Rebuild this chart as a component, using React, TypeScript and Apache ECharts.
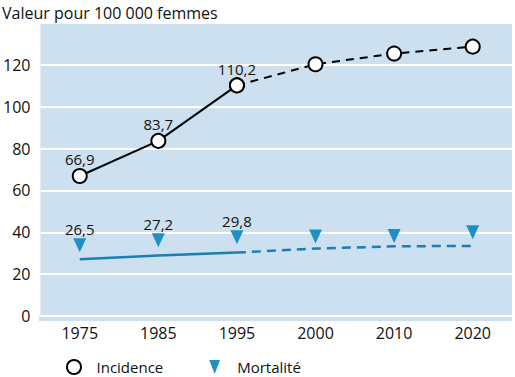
import React, { useEffect, useRef } from "react";
import * as echarts from "echarts";

const years = ["1975", "1985", "1995", "2000", "2010", "2020"];
const incidence = [66.9, 83.7, 110.2, 120.3, 125.4, 128.7];
const incidenceLabels = [66.9, 83.7, 110.2, null, null, null];
const mortalityLine = [27.1, 28.9, 30.3, 32.2, 33.3, 33.5];
const mortalityMarkers = [33.8, 36.2, 37.6, 38.0, 38.2, 40.0];
const mortalityLabels = [26.5, 27.2, 29.8, null, null, null];
const yTicks = [0, 20, 40, 60, 80, 100, 120];
const lastMeasured = 2;

const FONT = "Open Sans";
const BLUE = "#1a7fb3";
const MARK_BLUE = "#1f8fc6";
const BG = "#cde0ef";

const fmt = (v: number | null) => (v == null ? "" : String(v).replace(".", ","));

export default function App() {
  const ref = useRef<HTMLDivElement>(null);
  useEffect(() => {
    if (!ref.current) return;
    const chart = echarts.init(ref.current, undefined, { renderer: "svg" });
    const solid = (arr: number[]) => arr.map((v, i) => (i <= lastMeasured ? v : null));
    const dashed = (arr: number[]) => arr.map((v, i) => (i >= lastMeasured ? v : null));
    chart.setOption({
      animation: false,
      textStyle: { fontFamily: FONT },
      title: {
        text: "Valeur pour 100 000 femmes",
        left: -3,
        top: 0,
        textStyle: { fontFamily: FONT, fontSize: 16, fontWeight: "normal", color: "#111" },
      },
      grid: {
        left: 39,
        right: 3,
        top: 23,
        bottom: 61,
        show: true,
        backgroundColor: BG,
        borderWidth: 0,
      },
      graphic: [
        { type: "rect", shape: { x: 39, y: 316, width: 473, height: 5 }, style: { fill: BG }, z: -1 },
      ],
      legend: {
        left: 61,
        top: 354,
        itemWidth: 35,
        itemHeight: 14,
        itemGap: 46,
        textStyle: { fontFamily: FONT, fontSize: 15, color: "#111" },
        data: [
          {
            name: "Incidence",
            icon: "circle",
            itemStyle: { color: "#fff", borderColor: "#000", borderWidth: 2 },
          },
          {
            name: "Mortalité",
            icon: "path://M0,0L10,0L5,13Z",
            itemStyle: { color: MARK_BLUE, borderWidth: 0 },
          },
        ],
      },
      xAxis: {
        type: "category",
        data: years,
        boundaryGap: true,
        axisLine: { show: false },
        axisTick: { show: false },
        axisLabel: { fontFamily: FONT, fontSize: 16, color: "#111", margin: 9 },
      },
      yAxis: {
        type: "value",
        min: 0,
        max: 140,
        interval: 20,
        axisLine: { show: false },
        axisTick: { show: false },
        splitLine: { show: true, lineStyle: { color: "#fff", width: 2 } },
        axisLabel: {
          fontFamily: FONT,
          fontSize: 16,
          color: "#111",
          margin: 10,
          formatter: (v: number) => (yTicks.includes(v) ? String(v) : ""),
        },
      },
      series: [
        {
          name: "Mortalité",
          type: "line",
          data: solid(mortalityLine),
          showSymbol: false,
          symbol: "none",
          lineStyle: { color: BLUE, width: 2.5 },
          itemStyle: { color: BLUE },
          z: 2,
        },
        {
          name: "Mortalité",
          type: "line",
          data: dashed(mortalityLine),
          showSymbol: false,
          symbol: "none",
          lineStyle: { color: BLUE, width: 2.5, type: [9, 6] },
          itemStyle: { color: BLUE },
          z: 2,
        },
        {
          name: "Mortalité",
          type: "scatter",
          data: mortalityMarkers,
          symbol: "triangle",
          symbolRotate: 180,
          symbolSize: [13, 14],
          itemStyle: { color: MARK_BLUE, opacity: 1 },
          label: {
            show: true,
            position: "top",
            distance: 2,
            fontFamily: FONT,
            fontSize: 15,
            color: "#111",
            formatter: (p: any) => fmt(mortalityLabels[p.dataIndex]),
          },
          z: 3,
        },
        {
          name: "Incidence",
          type: "line",
          data: solid(incidence),
          symbol: "circle",
          symbolSize: 14,
          showAllSymbol: true,
          lineStyle: { color: "#000", width: 2 },
          itemStyle: { color: "#fff", borderColor: "#000", borderWidth: 2 },
          label: {
            show: true,
            position: "top",
            distance: 1,
            fontFamily: FONT,
            fontSize: 15,
            color: "#111",
            formatter: (p: any) => fmt(incidenceLabels[p.dataIndex]),
          },
          z: 4,
        },
        {
          name: "Incidence",
          type: "line",
          data: dashed(incidence),
          symbol: "circle",
          symbolSize: 14,
          showAllSymbol: true,
          lineStyle: { color: "#000", width: 2, type: [8, 6] },
          itemStyle: { color: "#fff", borderColor: "#000", borderWidth: 2 },
          z: 4,
        },
      ],
    });
    return () => chart.dispose();
  }, []);
  return <div ref={ref} style={{ width: 515, height: 377, position: "absolute", left: 0, top: 0 }} />;
}
